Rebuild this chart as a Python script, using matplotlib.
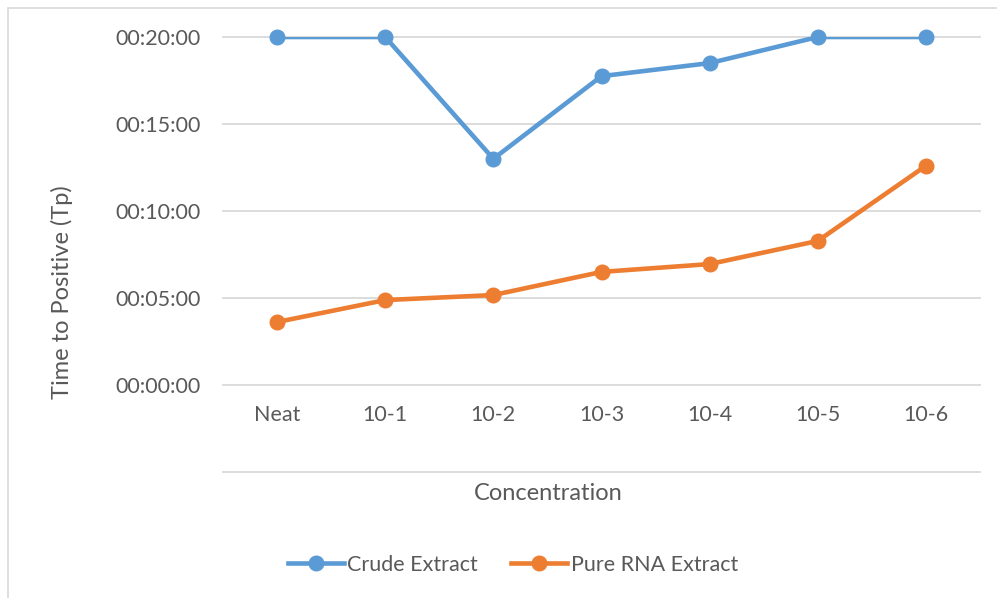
#%%
# imports
import matplotlib
matplotlib.use("Agg")
import matplotlib.pyplot as plt
import matplotlib.transforms as mtransforms
from matplotlib.lines import Line2D
from matplotlib.patches import Rectangle

plt.rcParams["font.family"] = ["Lato", "DejaVu Sans"]

# %%
# data (time to positive, minutes)
categories = ["Neat", "10-1", "10-2", "10-3", "10-4", "10-5", "10-6"]
crude_extract = [20.0, 20.0, 13.0, 17.75, 18.5, 20.0, 20.0]
pure_rna_extract = [3.62, 4.88, 5.17, 6.5, 6.95, 8.28, 12.6]
y_ticks = [0, 5, 10, 15, 20]

blue = "#5B9BD5"
orange = "#ED7D31"
grey_txt = "#595959"

def fmt_time(m):
    m = int(round(m))
    return f"00:{m:02d}:00"

# %%
fig = plt.figure(figsize=(9.97, 5.98), dpi=100)
W, H = 997, 598
ax = fig.add_axes([223 / W, 1 - 472 / H, (980 - 223) / W, (472 - 37) / H])

x = list(range(len(categories)))
for series, col in [(crude_extract, blue), (pure_rna_extract, orange)]:
    ax.plot(x, series, color=col, lw=3.3, solid_capstyle="round", zorder=3)
    ax.plot(x, series, ls="none", marker="o", ms=10.5, color=col,
            clip_on=False, zorder=4)

ax.set_xlim(-0.5, len(categories) - 0.5)
ax.set_ylim(-5, 20)

# gridlines incl. the hidden -5 level
for g in [-5] + y_ticks:
    ax.axhline(g, color="#D9D9D9", lw=1.3, zorder=1, clip_on=False)

for s in ax.spines.values():
    s.set_visible(False)
ax.set_xticks([])
ax.set_yticks(y_ticks)
ax.set_yticklabels([fmt_time(t) for t in y_ticks])
ax.tick_params(axis="y", length=0, pad=16, labelsize=15.5, labelcolor=grey_txt)

# category labels sit under the zero line
off = mtransforms.offset_copy(ax.transData, fig=fig, x=0, y=-30, units="dots")
for xi, lab in zip(x, categories):
    ax.text(xi, 0, lab, transform=off, ha="center", va="center",
            fontsize=15.5, color=grey_txt)

fig.text(548 / W, 1 - 493 / H, "Concentration", ha="center", va="center",
         fontsize=17, color=grey_txt)
fig.text(62 / W, 1 - 292 / H, "Time to Positive (Tp)", ha="center", va="center",
         rotation=90, fontsize=17, color=grey_txt)

# legend
handles = [Line2D([], [], color=blue, lw=3.3, marker="o", ms=10.5),
           Line2D([], [], color=orange, lw=3.3, marker="o", ms=10.5)]
fig.legend(handles, ["Crude Extract", "Pure RNA Extract"], loc="center",
           bbox_to_anchor=(513 / W, 1 - 565 / H), ncol=2, frameon=False,
           fontsize=15.5, labelcolor=grey_txt, handlelength=2.6,
           handletextpad=0.15, columnspacing=1.55)

# chart area border
fig.patches.append(Rectangle((8 / W, -0.1), 1.2, 1 - 8 / H + 0.1,
                             transform=fig.transFigure, fill=False,
                             ec="#D9D9D9", lw=1.2))

fig.savefig("out.png", dpi=100)
